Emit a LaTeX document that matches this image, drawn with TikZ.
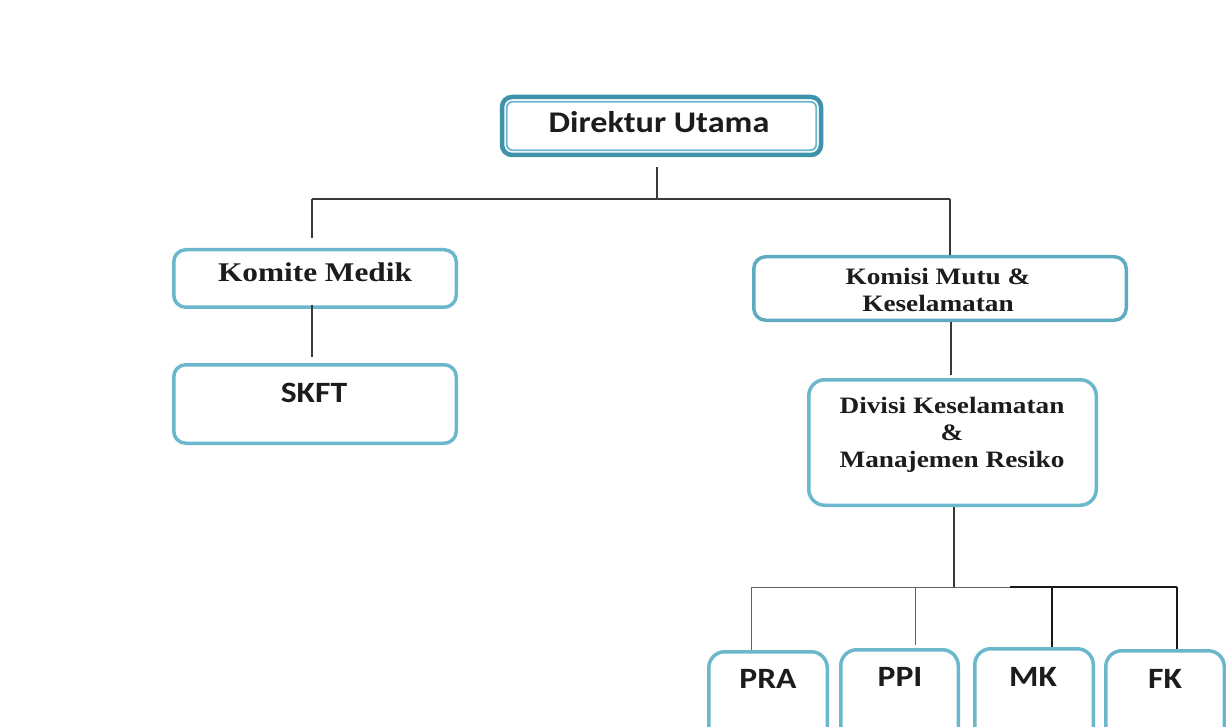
\documentclass[tikz,border=0pt]{standalone}
\usepackage{fontspec}
\newfontfamily\boxsans[FakeStretch=1.14]{Carlito}
\newfontfamily\boxserif[FakeStretch=1.16]{Liberation Serif}
\definecolor{tealL}{HTML}{6BB7CC}
\definecolor{tealD}{HTML}{3E93AA}
\definecolor{inkC}{HTML}{1C1C1C}
\definecolor{lineC}{HTML}{3A3A3A}
\tikzset{
  orgbox/.style={draw=tealL, line width=3.5pt, rounded corners=12pt, fill=none, inner sep=0pt},
  sanslbl/.style={text=inkC, inner sep=0pt, anchor=base, font=\boxsans\bfseries\fontsize{29.5}{32}\selectfont},
  seriflbl/.style={text=inkC, inner sep=0pt, anchor=base, align=center, font=\boxserif\bfseries\fontsize{23.5}{27}\selectfont},
  link/.style={draw=lineC, line width=1.1pt},
  linkthin/.style={draw=gray!75!black, line width=0.9pt},
  linkbold/.style={draw=black!90, line width=1.8pt},
}
\begin{document}
\begin{tikzpicture}[x=1pt, y=-1pt]
\useasboundingbox (0,0) rectangle (1226,727);
\clip (0,0) rectangle (1226,727);
\fill[white] (0,0) rectangle (1226,727);

% ---- boxes ----
\node[orgbox, draw=tealD, line width=4.5pt, rounded corners=10pt,
      minimum width=319pt, minimum height=58pt] (dir) at (661.5,126) {};
\draw[tealL, line width=1.8pt, rounded corners=6pt]
  ([shift={(7,7)}]dir.north west) rectangle ([shift={(-7,-7)}]dir.south east);
\node[orgbox, minimum width=282.5pt, minimum height=57.5pt] (kom) at (315,278.5) {};
\node[orgbox, draw=tealL!70!tealD, minimum width=372.5pt, minimum height=63.5pt] (kmk) at (940,288.5) {};
\node[orgbox, minimum width=282.5pt, minimum height=78.5pt] (skft) at (315,404) {};
\node[orgbox, rounded corners=16pt, minimum width=287.5pt, minimum height=125.5pt] (div) at (952.5,442.5) {};
\node[orgbox, rounded corners=16pt, minimum width=118.5pt, minimum height=120pt] (pra) at (768,711.75) {};
\node[orgbox, rounded corners=16pt, minimum width=117.5pt, minimum height=120pt] (ppi) at (899.5,709.75) {};
\node[orgbox, rounded corners=16pt, minimum width=118.5pt, minimum height=120pt] (mk) at (1034,708.75) {};
\node[orgbox, rounded corners=16pt, minimum width=118.5pt, minimum height=120pt] (fk) at (1165,710.75) {};

% ---- labels (multi-line labels sit on the baseline of their last line) ----
\node[sanslbl, font=\boxsans\bfseries\fontsize{30}{32}\selectfont] (dirT) at (659,133) {Direktur Utama};
\node[seriflbl, font=\boxserif\bfseries\fontsize{27}{30}\selectfont] (komT) at (315,282) {Komite Medik};
\node[seriflbl] (kmkT) at (938,312) {Komisi Mutu \&\\Keselamatan};
\node[sanslbl] (skftT) at (314,402) {SKFT};
\node[seriflbl] (divT) at (952,467) {Divisi Keselamatan\\\&\\Manajemen Resiko};
\node[sanslbl] (praT) at (768,688) {PRA};
\node[sanslbl] (ppiT) at (900,686) {PPI};
\node[sanslbl] (mkT) at (1033,686) {MK};
\node[sanslbl] (fkT) at (1165,688) {FK};

% ---- connector junctions ----
\coordinate (busL) at (312,199);
\coordinate (busM) at (657,199);
\coordinate (busR) at (950,199);
\coordinate (kmkX) at (951,0);
\coordinate (b2M) at (954,587);
\coordinate (b2L) at (751,587);
\coordinate (b2P) at (915,587);
\coordinate (b2K) at (1052,587);
\coordinate (b2R) at (1177,587);
\coordinate (b2J) at (1010,587);

% ---- upper level ----
\draw[link] (busM |- dir.south) ++(0,10) -- (busM);
\draw[link] (busL) -- (busR);
\draw[link] (busL) -- ([yshift=10pt]busL |- kom.north);
\draw[link] (busR) -- (busR |- kmk.north);
\draw[link] ([yshift=4pt]busL |- kom.south) -- ([yshift=6pt]busL |- skft.north);
\draw[link] (kmkX |- kmk.south) -- ([yshift=3pt]kmkX |- div.north);

% ---- lower level ----
\draw[link, line width=1.4pt] (b2M |- div.south) -- (b2M);
\draw[linkthin] (b2L) -- (b2J);
\draw[linkbold] (b2J) -- (b2R);
\draw[linkthin] (b2L) -- (b2L |- pra.north);
\draw[linkthin] (b2P) -- ([yshift=3pt]b2P |- ppi.north);
\draw[linkbold] (b2K) -- (b2K |- mk.north);
\draw[linkbold] (b2R) -- (b2R |- fk.north);
\end{tikzpicture}
\end{document}
